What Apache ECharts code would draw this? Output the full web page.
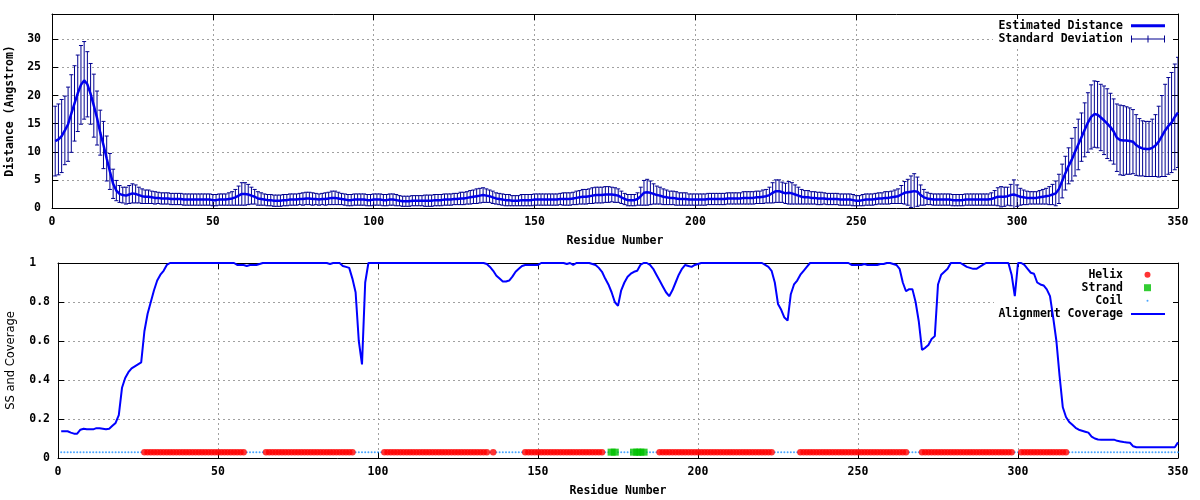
<!DOCTYPE html>
<html>
<head>
<meta charset="utf-8">
<script src="https://cdn.jsdelivr.net/npm/echarts@6/dist/echarts.min.js"></script>
<style>html,body{margin:0;padding:0;background:#fff}#c{width:1200px;height:500px}</style>
</head>
<body>
<div id="c"></div>
<script>
// ---------------- DATA (residues 1..350) ----------------
const distance = [
11.9,12.2,12.8,13.8,14.9,16.8,18.6,20.4,21.9,22.7,
22.0,20.3,18.2,16.0,13.4,11.2,8.8,6.5,4.3,3.1,
2.5,2.3,2.2,2.4,2.6,2.5,2.3,2.1,2.0,2.0,
1.9,1.8,1.8,1.7,1.7,1.7,1.6,1.6,1.6,1.6,
1.5,1.5,1.5,1.5,1.5,1.5,1.5,1.5,1.5,1.4,
1.4,1.5,1.5,1.5,1.6,1.7,1.9,2.2,2.5,2.5,
2.4,2.2,2.0,1.7,1.6,1.5,1.4,1.4,1.3,1.3,
1.3,1.4,1.4,1.5,1.5,1.5,1.6,1.6,1.7,1.7,
1.6,1.6,1.5,1.6,1.6,1.7,1.8,1.8,1.7,1.6,
1.5,1.4,1.4,1.5,1.5,1.5,1.5,1.4,1.4,1.5,
1.5,1.5,1.4,1.4,1.5,1.5,1.4,1.3,1.2,1.2,
1.2,1.3,1.3,1.3,1.3,1.3,1.3,1.3,1.4,1.4,
1.4,1.5,1.5,1.5,1.6,1.6,1.7,1.7,1.8,1.9,
2.0,2.1,2.2,2.3,2.2,2.1,1.9,1.7,1.6,1.5,
1.4,1.4,1.3,1.3,1.3,1.4,1.4,1.4,1.4,1.5,
1.5,1.5,1.5,1.5,1.5,1.5,1.5,1.6,1.6,1.6,
1.6,1.7,1.8,1.9,2.0,2.0,2.1,2.2,2.3,2.3,
2.3,2.4,2.4,2.4,2.3,2.2,1.9,1.6,1.4,1.4,
1.4,1.6,2.1,2.7,2.8,2.7,2.5,2.3,2.2,2.0,
1.9,1.8,1.8,1.7,1.6,1.6,1.6,1.5,1.5,1.5,
1.5,1.5,1.5,1.6,1.6,1.6,1.6,1.6,1.6,1.7,
1.7,1.7,1.7,1.7,1.8,1.8,1.8,1.8,1.9,1.9,
2.0,2.1,2.3,2.7,3.0,3.0,2.8,2.6,2.7,2.6,
2.4,2.2,2.0,1.9,1.9,1.8,1.8,1.7,1.7,1.7,
1.6,1.6,1.6,1.6,1.5,1.5,1.5,1.5,1.4,1.3,
1.3,1.4,1.5,1.5,1.5,1.6,1.7,1.7,1.8,1.8,
1.9,2.0,2.1,2.4,2.7,2.8,2.9,3.0,2.9,2.3,
1.9,1.7,1.6,1.5,1.5,1.5,1.5,1.5,1.5,1.4,
1.4,1.4,1.4,1.5,1.5,1.5,1.5,1.5,1.5,1.5,
1.5,1.6,1.8,2.0,2.0,2.0,2.1,2.3,2.4,2.2,
2.0,1.9,1.8,1.8,1.8,1.8,1.9,2.0,2.1,2.2,
2.4,2.6,3.4,4.8,6.2,7.5,8.6,10.0,11.3,12.6,
13.9,15.2,16.2,16.7,16.6,16.1,15.6,15.0,14.4,13.6,
12.5,12.1,12.0,12.0,11.9,11.8,11.2,10.8,10.6,10.5,
10.5,10.7,11.1,11.8,12.8,13.8,14.6,15.2,16.2,17.0
];
const stdDev = [
6.2,6.3,6.5,6.1,6.6,6.9,6.7,6.8,7.0,6.9,
5.8,5.4,5.6,4.8,4.0,4.2,4.0,3.2,2.6,1.8,
1.5,1.4,1.5,1.6,1.7,1.6,1.4,1.3,1.2,1.2,
1.1,1.1,1.0,1.0,1.0,1.0,1.0,1.0,1.0,1.0,
1.0,1.0,1.0,1.0,1.0,1.0,1.0,1.0,1.0,1.0,
1.0,1.0,1.0,1.0,1.1,1.2,1.4,1.7,2.0,2.0,
1.8,1.5,1.3,1.2,1.1,1.0,1.0,1.0,1.0,1.0,
1.0,1.0,1.0,1.0,1.0,1.0,1.0,1.1,1.1,1.1,
1.1,1.0,1.0,1.0,1.1,1.1,1.2,1.2,1.1,1.0,
1.0,1.0,1.0,1.0,1.0,1.0,1.0,1.0,1.0,1.0,
1.0,1.0,1.0,1.0,1.0,1.0,1.0,0.9,0.9,0.9,
0.9,0.9,0.9,0.9,0.9,1.0,1.0,1.0,1.0,1.0,
1.0,1.0,1.0,1.0,1.0,1.0,1.1,1.1,1.1,1.2,
1.2,1.3,1.3,1.3,1.2,1.1,1.1,1.0,1.0,1.0,
1.0,1.0,0.9,0.9,0.9,1.0,1.0,1.0,1.0,1.0,
1.0,1.0,1.0,1.0,1.0,1.0,1.0,1.0,1.1,1.1,
1.1,1.1,1.2,1.2,1.3,1.3,1.3,1.4,1.4,1.4,
1.4,1.4,1.4,1.3,1.3,1.2,1.1,1.0,1.0,1.0,
1.0,1.1,1.6,2.2,2.3,2.1,1.8,1.6,1.5,1.4,
1.3,1.2,1.2,1.2,1.1,1.1,1.1,1.0,1.0,1.0,
1.0,1.0,1.0,1.0,1.0,1.0,1.0,1.0,1.0,1.0,
1.0,1.0,1.0,1.0,1.1,1.1,1.1,1.1,1.1,1.1,
1.2,1.2,1.4,1.8,2.0,2.0,1.8,1.8,2.0,1.9,
1.7,1.5,1.3,1.2,1.2,1.1,1.1,1.1,1.1,1.0,
1.0,1.0,1.0,1.0,1.0,1.0,1.0,1.0,1.0,0.9,
0.9,1.0,1.0,1.0,1.0,1.0,1.0,1.0,1.1,1.1,
1.1,1.2,1.3,1.6,2.0,2.3,2.8,3.1,2.6,1.8,
1.4,1.1,1.0,1.0,1.0,1.0,1.0,1.0,1.0,1.0,
1.0,1.0,1.0,1.0,1.0,1.0,1.0,1.0,1.0,1.0,
1.0,1.1,1.3,1.6,1.8,1.7,1.6,1.9,2.6,1.9,
1.5,1.3,1.2,1.1,1.1,1.1,1.2,1.3,1.4,1.6,
1.8,2.2,2.6,3.0,3.0,3.2,3.8,4.3,4.5,4.3,
4.8,5.3,5.7,5.9,5.9,5.9,6.1,6.2,6.0,5.8,
6.0,6.2,6.2,6.0,5.9,5.7,5.4,5.1,4.9,4.9,
4.9,5.1,5.5,6.3,7.2,8.2,8.6,8.9,9.4,9.8
];
const coverage = [
0.137,0.137,0.137,0.130,0.125,0.125,0.145,0.150,0.147,0.147,
0.147,0.153,0.153,0.150,0.147,0.150,0.165,0.180,0.220,0.360,
0.410,0.440,0.460,0.470,0.480,0.490,0.650,0.740,0.800,0.860,
0.910,0.940,0.960,0.990,1,1,1,1,1,1,
1,1,1,1,1,1,1,1,1,1,
1,1,1,1,1,0.99,0.99,0.99,0.985,0.99,
0.99,0.99,0.995,1,1,1,1,1,1,1,
1,1,1,1,1,1,1,1,1,1,
1,1,1,1,0.995,1,1,1,0.985,0.98,
0.975,0.92,0.85,0.60,0.48,0.90,1,1,1,1,
1,1,1,1,1,1,1,1,1,1,
1,1,1,1,1,1,1,1,1,1,
1,1,1,1,1,1,1,1,1,1,
1,1,1,0.995,0.98,0.96,0.935,0.92,0.905,0.905,
0.91,0.93,0.955,0.97,0.985,0.99,0.99,0.99,0.99,0.99,
1,1,1,1,1,1,1,1,0.995,1,
0.99,1,1,1,1,1,0.995,0.99,0.975,0.955,
0.92,0.89,0.85,0.80,0.78,0.86,0.90,0.93,0.945,0.955,
0.96,0.99,1,1,0.99,0.97,0.94,0.91,0.88,0.85,
0.83,0.86,0.90,0.94,0.97,0.99,0.985,0.98,0.99,0.995,
1,1,1,1,1,1,1,1,1,1,
1,1,1,1,1,1,1,1,1,1,
0.99,0.98,0.96,0.90,0.79,0.76,0.72,0.705,0.84,0.89,
0.91,0.94,0.96,0.98,1,1,1,1,1,1,
1,1,1,1,1,1,1,0.99,0.99,0.99,
0.99,0.995,0.99,0.99,0.99,0.99,0.995,0.995,1,1,
0.995,0.99,0.97,0.90,0.855,0.866,0.866,0.80,0.70,0.555,
0.565,0.58,0.61,0.625,0.89,0.94,0.955,0.97,1,1,
1,1,0.99,0.98,0.975,0.97,0.97,0.98,0.99,1,
1,1,1,1,1,1,1,0.94,0.83,1,
1,0.99,0.97,0.95,0.945,0.90,0.89,0.885,0.865,0.83,
0.72,0.60,0.42,0.26,0.21,0.185,0.17,0.155,0.145,0.14,
0.135,0.13,0.11,0.10,0.095,0.094,0.094,0.094,0.094,0.094,
0.088,0.085,0.082,0.08,0.078,0.06,0.055,0.055,0.055,0.055,
0.055,0.055,0.055,0.055,0.055,0.055,0.055,0.055,0.055,0.08
];
// Secondary structure as residue ranges (everything else is coil)
const helixRanges = [[27,58],[65,92],[102,134],[136,136],[146,170],[188,223],[232,265],[270,298],[301,315]];
const strandRanges = [[173,174],[180,183]];
const ssLevel = 0.03;

// ---------------- BUILD ----------------
const residues = distance.map((_, i) => i + 1);
const expand = (ranges) => { const out = []; ranges.forEach(([a, b]) => { for (let r = a; r <= b; r++) out.push(r); }); return out; };
const helixRes = expand(helixRanges);
const strandRes = expand(strandRanges);
const coilRes = residues.filter(r => !helixRes.includes(r) && !strandRes.includes(r));

const MONO = '"DejaVu Sans Mono", "Liberation Mono", monospace';
const lblStyle = { fontFamily: MONO, fontWeight: 'bold', fontSize: 11.5, color: '#000' };
const gridDash = { show: true, lineStyle: { type: [2, 3], color: '#a0a0a0', width: 1 } };
const tickIn = { show: true, inside: true, length: 6, lineStyle: { color: '#000', width: 1 } };
const axLine = { show: true, onZero: false, lineStyle: { color: '#000', width: 1 } };

function xMain(gi) {
  return { type: 'value', gridIndex: gi, position: 'bottom', min: 0, max: 350, interval: 50,
    axisLine: axLine, axisTick: tickIn, splitLine: gridDash,
    axisLabel: Object.assign({ margin: 8 }, lblStyle),
    name: 'Residue Number', nameLocation: 'middle', nameGap: 27, nameTextStyle: lblStyle };
}
function xMirror(gi) {
  return { type: 'value', gridIndex: gi, position: 'top', min: 0, max: 350, interval: 50,
    axisLine: axLine, axisTick: tickIn, splitLine: { show: false }, axisLabel: { show: false } };
}
function yMirror(gi, max, interval) {
  return { type: 'value', gridIndex: gi, position: 'right', min: 0, max, interval,
    axisLine: axLine, axisTick: tickIn, splitLine: { show: false }, axisLabel: { show: false } };
}

const errStyle = { stroke: '#000090', lineWidth: 1, fill: null };
function renderErr(params, api) {
  const x = api.value(0), lo = api.value(1), hi = api.value(2);
  const a = api.coord([x, lo]), b = api.coord([x, hi]);
  const w = 2;
  return { type: 'group', children: [
    { type: 'line', shape: { x1: a[0], y1: a[1], x2: b[0], y2: b[1] }, style: errStyle },
    { type: 'line', shape: { x1: b[0] - w, y1: b[1], x2: b[0] + w, y2: b[1] }, style: errStyle },
    { type: 'line', shape: { x1: a[0] - w, y1: a[1], x2: a[0] + w, y2: a[1] }, style: errStyle }
  ] };
}

function legendText(padRight) {
  return { fontFamily: MONO, fontWeight: 'bold', fontSize: 11.5, color: '#000', lineHeight: 12, padding: [0, padRight, 0, 0] };
}
// right: distance from the chart's right edge to the icon's right edge
function mkLegend(name, icon, iw, ih, cy, right, padRight) {
  return { data: [{ name, icon }], orient: 'vertical', align: 'right', right, top: cy - 6,
    itemWidth: iw, itemHeight: ih, padding: 0, itemStyle: { borderWidth: 0 },
    textStyle: legendText(padRight), selectedMode: false };
}

const option = {
  backgroundColor: '#fff',
  animation: false,
  grid: [
    { left: 52, right: 22, top: 14, bottom: 292, outerBoundsMode: 'none' },
    { left: 58, right: 22, top: 263, bottom: 42, outerBoundsMode: 'none' }
  ],
  xAxis: [xMain(0), xMirror(0), xMain(1), xMirror(1)],
  yAxis: [
    { type: 'value', gridIndex: 0, position: 'left', min: 0, max: 34.5, interval: 5,
      axisLine: axLine, axisTick: tickIn, splitLine: gridDash,
      axisLabel: Object.assign({ margin: 11, showMaxLabel: false, formatter: v => (v % 5 === 0 ? String(v) : '') }, lblStyle),
      name: 'Distance (Angstrom)', nameLocation: 'middle', nameRotate: 90, nameGap: 36, nameTextStyle: lblStyle },
    yMirror(0, 34.5, 5),
    { type: 'value', gridIndex: 1, position: 'left', min: 0, max: 1, interval: 0.2,
      axisLine: axLine, axisTick: tickIn, splitLine: gridDash,
      axisLabel: Object.assign({ margin: 8, formatter: v => (v === 1 ? '1  ' : (v === 0 ? '0' : v.toFixed(1))) }, lblStyle),
      name: 'SS and Coverage', nameLocation: 'middle', nameRotate: 90, nameGap: 41,
      nameTextStyle: { fontFamily: '"DejaVu Sans", sans-serif', fontSize: 11.5, color: '#000' } },
    yMirror(1, 1, 0.2)
  ],
  legend: [
    mkLegend('Estimated Distance', 'path://M0,0h34v3h-34z', 34, 3, 25.7, 35, 3),
    mkLegend('Standard Deviation', 'path://M0,3h34v1h-34z M0,0h1v7h-1z M33,0h1v7h-1z M16.5,0h1v7h-1z', 34, 7, 39, 35, 3),
    mkLegend('Helix', 'circle', 6, 6, 274.7, 49.5, 16.5),
    mkLegend('Strand', 'rect', 7, 7, 287.7, 49, 16),
    mkLegend('Coil', 'circle', 2, 2, 300.7, 51.5, 18.5),
    mkLegend('Alignment Coverage', 'path://M0,0h34v2h-34z', 34, 2, 314, 35, 3)
  ],
  graphic: [
    { type: 'rect', shape: { x: 993, y: 19, width: 180, height: 27 }, style: { fill: '#fff' }, z: 1 },
    { type: 'rect', shape: { x: 994, y: 267, width: 179, height: 54 }, style: { fill: '#fff' }, z: 1 }
  ],
  series: [
    { name: 'Standard Deviation', type: 'custom', xAxisIndex: 0, yAxisIndex: 0, z: 2,
      itemStyle: { color: '#000090' }, encode: { x: 0, y: [1, 2] }, clip: true,
      renderItem: renderErr,
      data: residues.map((r, i) => [r, distance[i] - stdDev[i], distance[i] + stdDev[i]]) },
    { name: 'Estimated Distance', type: 'line', xAxisIndex: 0, yAxisIndex: 0, z: 3,
      color: '#0000ee', symbol: 'none', showSymbol: false, lineStyle: { color: '#0000ee', width: 2.5 },
      data: residues.map((r, i) => [r, distance[i]]) },
    { name: 'Coil', type: 'scatter', xAxisIndex: 2, yAxisIndex: 2, z: 2,
      symbol: 'circle', symbolSize: 2, itemStyle: { color: '#1e90ff' },
      data: coilRes.map(r => [r, ssLevel]) },
    { name: 'Helix', type: 'scatter', xAxisIndex: 2, yAxisIndex: 2, z: 3,
      symbol: 'circle', symbolSize: 6.5, itemStyle: { color: '#ff0000' },
      data: helixRes.map(r => [r, ssLevel]) },
    { name: 'Strand', type: 'scatter', xAxisIndex: 2, yAxisIndex: 2, z: 3,
      symbol: 'rect', symbolSize: [8, 7], itemStyle: { color: '#00c000' },
      data: strandRes.map(r => [r, ssLevel]) },
    { name: 'Alignment Coverage', type: 'line', xAxisIndex: 2, yAxisIndex: 2, z: 4,
      color: '#0000ff', symbol: 'none', showSymbol: false, lineStyle: { color: '#0000ff', width: 2 },
      data: residues.map((r, i) => [r, coverage[i]]) }
  ]
};

const chart = echarts.init(document.getElementById('c'), null, { renderer: 'canvas' });
chart.setOption(option);
</script>
</body>
</html>
